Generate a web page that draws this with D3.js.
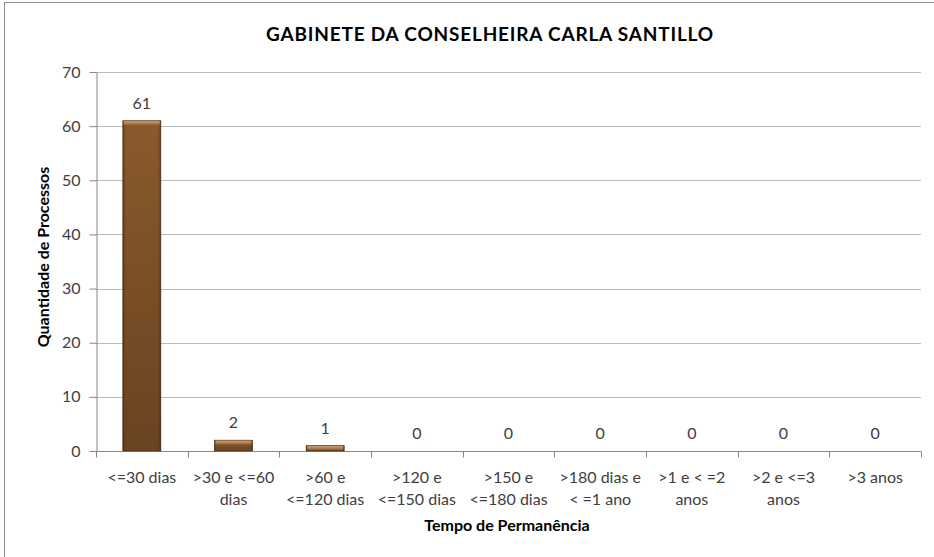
<!DOCTYPE html>
<html>
<head>
<meta charset="utf-8">
<script src="https://cdn.jsdelivr.net/npm/d3@7"></script>
<style>
  body { margin: 0; background: #fff; }
  text { font-family: Lato, "Liberation Sans", sans-serif; }
</style>
</head>
<body>
<div id="chart"></div>
<script>
// chart data
var categories = [
  ["<=30 dias"],
  [">30 e <=60", "dias"],
  [">60 e", "<=120 dias"],
  [">120 e", "<=150 dias"],
  [">150 e", "<=180 dias"],
  [">180 dias e", "< =1 ano"],
  [">1 e < =2", "anos"],
  [">2 e <=3", "anos"],
  [">3 anos"]
];
var values = [61, 2, 1, 0, 0, 0, 0, 0, 0];
var yTicks = [0, 10, 20, 30, 40, 50, 60, 70];

var svgWidth = 934;
var svgHeight = 557;

var margin = { top: 72, right: 13, bottom: 106, left: 96 };
var chartWidth = svgWidth - margin.left - margin.right;
var chartHeight = svgHeight - margin.top - margin.bottom;

var svg = d3.select("#chart")
  .append("svg")
  .attr("width", svgWidth)
  .attr("height", svgHeight);

// bar gradients, brown with a bevel look
var defs = svg.append("defs");
var grad = defs.append("linearGradient")
  .attr("id", "barGrad")
  .attr("x1", "0").attr("x2", "0").attr("y1", "0").attr("y2", "1");
grad.append("stop").attr("offset", "0%").attr("stop-color", "#8a5a2e");
grad.append("stop").attr("offset", "100%").attr("stop-color", "#6a4320");

var sideGrad = defs.append("linearGradient")
  .attr("id", "sideGrad")
  .attr("x1", "0").attr("x2", "1").attr("y1", "0").attr("y2", "0");
sideGrad.append("stop").attr("offset", "0%").attr("stop-color", "#3e2410").attr("stop-opacity", 0.5);
sideGrad.append("stop").attr("offset", "8%").attr("stop-color", "#3e2410").attr("stop-opacity", 0);
sideGrad.append("stop").attr("offset", "92%").attr("stop-color", "#3e2410").attr("stop-opacity", 0);
sideGrad.append("stop").attr("offset", "100%").attr("stop-color", "#3e2410").attr("stop-opacity", 0.5);

var topGrad = defs.append("linearGradient")
  .attr("id", "topGrad")
  .attr("x1", "0").attr("x2", "0").attr("y1", "0").attr("y2", "1");
topGrad.append("stop").attr("offset", "0%").attr("stop-color", "#d0a27a");
topGrad.append("stop").attr("offset", "100%").attr("stop-color", "#8f5f33");

// outer chart border
svg.append("rect")
  .attr("x", 4.5).attr("y", 2.5)
  .attr("width", svgWidth + 10).attr("height", svgHeight + 10)
  .attr("fill", "none")
  .attr("stroke", "#8c8c8c")
  .attr("stroke-width", 1);

var chartGroup = svg.append("g")
  .attr("transform", `translate(${margin.left}, ${margin.top})`);

var xScale = d3.scaleBand()
  .domain(d3.range(categories.length))
  .range([0, chartWidth])
  .paddingInner(0.585)
  .paddingOuter(0.2925);

var yScale = d3.scaleLinear()
  .domain([0, 70])
  .range([chartHeight, 0]);

// gridlines
chartGroup.selectAll("line.grid")
  .data(yTicks.slice(1))
  .enter()
  .append("line")
  .attr("class", "grid")
  .attr("x1", 0)
  .attr("x2", chartWidth)
  .attr("y1", d => Math.round(yScale(d)) + 0.5)
  .attr("y2", d => Math.round(yScale(d)) + 0.5)
  .attr("stroke", "#bcbcbc")
  .attr("stroke-width", 1);

// y axis
var leftAxis = d3.axisLeft(yScale)
  .tickValues(yTicks)
  .tickSize(7)
  .tickPadding(9)
  .tickSizeOuter(0);
var yAxisG = chartGroup.append("g")
  .attr("transform", "translate(0.5, 0)")
  .call(leftAxis);
yAxisG.select(".domain").attr("stroke", "#868686");
yAxisG.selectAll(".tick line").attr("stroke", "#868686");
yAxisG.selectAll(".tick text")
  .attr("fill", "#404040")
  .style("font-size", "16px")
  .style("font-family", "Lato, sans-serif");

// x axis: ticks between categories
var xEdge = d3.scaleLinear().domain([0, categories.length]).range([0, chartWidth]);
var xAxisG = chartGroup.append("g")
  .attr("transform", `translate(0, ${chartHeight + 0.5})`);
xAxisG.append("line")
  .attr("x1", 0).attr("x2", chartWidth)
  .attr("y1", 0).attr("y2", 0)
  .attr("stroke", "#868686");
xAxisG.selectAll("line.xtick")
  .data(d3.range(categories.length + 1))
  .enter()
  .append("line")
  .attr("class", "xtick")
  .attr("x1", d => Math.round(xEdge(d)) + 0.5)
  .attr("x2", d => Math.round(xEdge(d)) + 0.5)
  .attr("y1", 0)
  .attr("y2", 6)
  .attr("stroke", "#868686");

// x category labels (wrapped)
var labelG = xAxisG.selectAll("text.xlab")
  .data(categories)
  .enter()
  .append("text")
  .attr("class", "xlab")
  .attr("text-anchor", "middle")
  .attr("fill", "#404040")
  .style("font-size", "16px")
  .attr("x", (d, i) => xScale(i) + xScale.bandwidth() / 2)
  .attr("y", 31);
labelG.selectAll("tspan")
  .data(d => d)
  .enter()
  .append("tspan")
  .attr("x", function() { return d3.select(this.parentNode).attr("x"); })
  .attr("dy", (d, i) => i === 0 ? 0 : 22)
  .text(d => d);

// bars
var bars = chartGroup.selectAll("g.bar")
  .data(values)
  .enter()
  .append("g")
  .attr("class", "bar")
  .filter(d => d > 0);

bars.append("rect")
  .attr("x", (d, i) => xScale(values.indexOf(d)))
  .attr("y", d => yScale(d))
  .attr("width", xScale.bandwidth())
  .attr("height", d => chartHeight - yScale(d))
  .attr("fill", "url(#barGrad)")
  .attr("stroke", "#4a2c10")
  .attr("stroke-width", 0.6);

bars.append("rect")
  .attr("x", (d, i) => xScale(values.indexOf(d)))
  .attr("y", d => yScale(d))
  .attr("width", xScale.bandwidth())
  .attr("height", d => chartHeight - yScale(d))
  .attr("fill", "url(#sideGrad)");

// bevel top highlight
bars.append("rect")
  .attr("x", (d, i) => xScale(values.indexOf(d)) + 1)
  .attr("y", d => yScale(d) + 0.5)
  .attr("width", xScale.bandwidth() - 2)
  .attr("height", d => Math.min(4, chartHeight - yScale(d) - 1.5))
  .attr("fill", "url(#topGrad)");

// data labels
chartGroup.selectAll("text.val")
  .data(values)
  .enter()
  .append("text")
  .attr("class", "val")
  .attr("text-anchor", "middle")
  .attr("fill", "#404040")
  .style("font-size", "16px")
  .attr("x", (d, i) => xScale(i) + xScale.bandwidth() / 2)
  .attr("y", d => yScale(d) - 12)
  .text(d => d);

// title
svg.append("text")
  .attr("x", 490)
  .attr("y", 41)
  .attr("text-anchor", "middle")
  .attr("fill", "#000")
  .style("font-size", "19px")
  .style("font-weight", "bold")
  .style("letter-spacing", "0.8px")
  .text("GABINETE DA CONSELHEIRA CARLA SANTILLO");

// axis titles
svg.append("text")
  .attr("transform", "translate(49, 257) rotate(-90)")
  .attr("text-anchor", "middle")
  .style("font-size", "16px")
  .style("font-weight", "bold")
  .text("Quantidade de Processos");

svg.append("text")
  .attr("x", 507)
  .attr("y", 531)
  .attr("text-anchor", "middle")
  .style("font-size", "16px")
  .style("font-weight", "bold")
  .text("Tempo de Permanência");
</script>
</body>
</html>
